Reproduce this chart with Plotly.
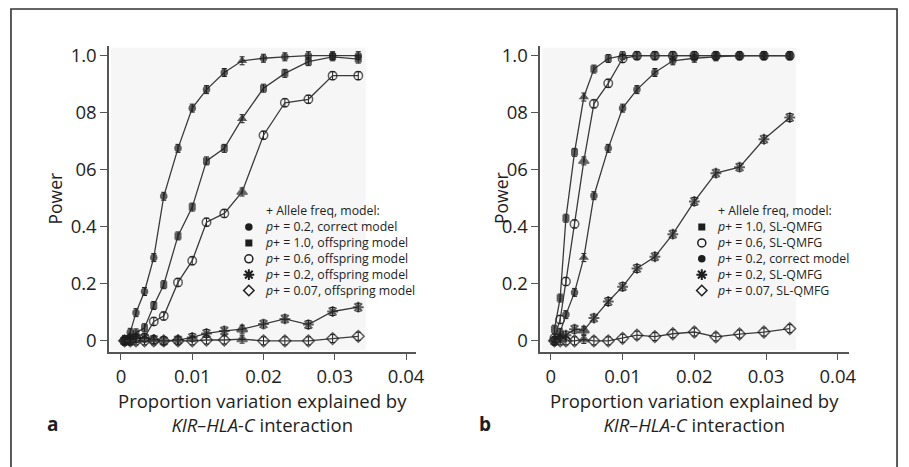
import plotly.graph_objects as go

# ---------------- data ----------------
X = [0.0005, 0.0013, 0.0021, 0.0033, 0.0046, 0.006, 0.008, 0.01, 0.012,
     0.0145, 0.017, 0.02, 0.023, 0.0263, 0.0297, 0.0333]

# panel a
A_correct_02 = [0.005, 0.03, 0.099, 0.173, 0.292, 0.507, 0.675, 0.816, 0.881,
                0.941, 0.982, 0.991, 0.996, 1.0, 1.0, 1.0]
A_off_10 = [0.0, 0.01, 0.028, 0.046, 0.124, 0.197, 0.368, 0.469, 0.631,
            0.675, 0.779, 0.886, 0.938, 0.979, 0.996, 0.988]
A_off_06 = [0.0, 0.0, 0.008, 0.012, 0.068, 0.087, 0.205, 0.281, 0.416,
            0.447, 0.522, 0.721, 0.835, 0.847, 0.93, 0.93]
A_off_02 = [0.0, 0.005, 0.01, 0.01, 0.005, 0.0, 0.003, 0.012, 0.026,
            0.035, 0.041, 0.059, 0.077, 0.057, 0.103, 0.118]
A_off_007 = [0.0, 0.0, 0.0, 0.0, 0.0, 0.0, 0.0, 0.0, 0.003,
             0.003, 0.006, 0.0, 0.0, 0.0, 0.008, 0.016]

# panel b
B_sl_10 = [0.041, 0.15, 0.43, 0.661, 0.855, 0.953, 0.99, 1.0, 1.0,
           1.0, 1.0, 1.0, 1.0, 1.0, 1.0, 1.0]
B_sl_06 = [0.01, 0.075, 0.208, 0.41, 0.631, 0.831, 0.903, 0.99, 1.0,
           1.0, 1.0, 1.0, 1.0, 1.0, 1.0, 1.0]
B_correct_02 = [0.0, 0.03, 0.092, 0.17, 0.292, 0.509, 0.675, 0.816, 0.881,
                0.941, 0.982, 0.991, 0.996, 1.0, 1.0, 1.0]
B_sl_02 = [0.0, 0.01, 0.02, 0.041, 0.037, 0.08, 0.138, 0.19, 0.254,
           0.295, 0.374, 0.489, 0.588, 0.609, 0.707, 0.783]
B_sl_007 = [0.0, 0.0, 0.0, 0.0, 0.005, 0.0, 0.0, 0.009, 0.02,
            0.015, 0.025, 0.031, 0.014, 0.024, 0.031, 0.043]

X_TICKS = [0, 0.01, 0.02, 0.03, 0.04]
X_TICKTEXT = ["0", "0.01", "0.02", "0.03", "0.04"]
Y_TICKS = [0, 0.2, 0.4, 0.6, 0.8, 1.0]
Y_TICKTEXT = ["0", "0.2", "0.4", "06", "08", "1.0"]

LEGEND_TITLE = "+ Allele freq, model:"
A_LABELS = ["<i>p</i>+ = 0.2, correct model", "<i>p</i>+ = 1.0, offspring model",
            "<i>p</i>+ = 0.6, offspring model", "<i>p</i>+ = 0.2, offspring model",
            "<i>p</i>+ = 0.07, offspring model"]
B_LABELS = ["<i>p</i>+ = 1.0, SL-QMFG", "<i>p</i>+ = 0.6, SL-QMFG",
            "<i>p</i>+ = 0.2, correct model", "<i>p</i>+ = 0.2, SL-QMFG",
            "<i>p</i>+ = 0.07, SL-QMFG"]

# ---------------- layout geometry (window pixels) ----------------
WIN_W, WIN_H = 909, 467
OFF = 8                       # default page margin around the figure
W, H = WIN_W - OFF, WIN_H - OFF
INK = "#1e1e1e"
LINE = "#3a3a3a"
FONT = "Open Sans"

PANELS = {
    "a": dict(xa="x", ya="y", px0=110, px1=420, xr=[-0.00167, 0.04145]),
    "b": dict(xa="x2", ya="y2", px0=545, px1=857, xr=[-0.00148, 0.04162]),
}
PY0, PY1 = 43, 351.7          # top / bottom pixel of the y axis
YR = [-0.038, 1.035]


def fx(p):
    return (p - OFF) / W


def fy(p):
    return 1 - (p - OFF) / H


def pix_to_data(panel, px, py):
    g = PANELS[panel]
    xd = g["xr"][0] + (px - g["px0"]) / (g["px1"] - g["px0"]) * (g["xr"][1] - g["xr"][0])
    yd = YR[0] + (PY1 - py) / (PY1 - PY0) * (YR[1] - YR[0])
    return xd, yd


STY = {
    "circle": dict(symbol="circle", size=7.5, color=INK, line=dict(width=0)),
    "square": dict(symbol="square", size=7, color=INK, line=dict(width=0)),
    "ocircle": dict(symbol="circle-open", size=8.5, color=INK, line=dict(width=1.5)),
    "star": dict(symbol="asterisk-open", size=9, color=INK, line=dict(width=2, color=INK)),
    "diamond": dict(symbol="diamond-open", size=9, color=INK, line=dict(width=1.5)),
}

fig = go.Figure()


def add_series(panel, ys, key, tri_idx):
    g = PANELS[panel]
    sty = dict(STY[key])
    symbols = [sty["symbol"]] * len(X)
    sizes = [sty["size"]] * len(X)
    symbols[tri_idx] = "triangle-up"
    sizes[tri_idx] = 9
    sty["symbol"] = symbols
    sty["size"] = sizes
    fig.add_trace(go.Scatter(
        x=X, y=ys, xaxis=g["xa"], yaxis=g["ya"], mode="lines+markers",
        line=dict(color=LINE, width=1.3), marker=sty, showlegend=False,
        error_y=dict(type="constant", value=0.014, color=INK, thickness=1, width=2.5),
    ))


A_SERIES = [(A_correct_02, "circle"), (A_off_10, "square"), (A_off_06, "ocircle"),
            (A_off_02, "star"), (A_off_007, "diamond")]
B_SERIES = [(B_sl_10, "square"), (B_sl_06, "ocircle"), (B_correct_02, "circle"),
            (B_sl_02, "star"), (B_sl_007, "diamond")]

for ys, key in A_SERIES:
    add_series("a", ys, key, X.index(0.017))
for ys, key in B_SERIES:
    add_series("b", ys, key, X.index(0.0046))

# ---------------- hand-made legends ----------------
LEG_FS = 12.3
LEG_LH = LEG_FS * 1.3          # plotly line height for <br>
LEG_TITLE_Y = 210
LEG_ROWS = [LEG_TITLE_Y + LEG_LH * (i + 1) for i in range(5)]
LEG_POS = {"a": (251, 266), "b": (708, 722)}
annotations = []
for panel, series, labels in [("a", A_SERIES, A_LABELS), ("b", B_SERIES, B_LABELS)]:
    g = PANELS[panel]
    mx, tx = LEG_POS[panel]
    for i, ((_, key), lab) in enumerate(zip(series, labels)):
        xd, yd = pix_to_data(panel, mx, LEG_ROWS[i])
        m = dict(STY[key])
        if key in ("ocircle", "diamond"):
            m["size"] = 8
        fig.add_trace(go.Scatter(x=[xd], y=[yd], xaxis=g["xa"], yaxis=g["ya"],
                                 mode="markers", marker=m, showlegend=False,
                                 hoverinfo="skip"))
    block = "<br>".join([LEGEND_TITLE] + labels)
    annotations.append(dict(x=fx(tx), y=fy((LEG_TITLE_Y + LEG_ROWS[-1]) / 2),
                            xref="paper", yref="paper", text=block, align="left",
                            showarrow=False, xanchor="left", yanchor="middle",
                            borderpad=0, font=dict(size=LEG_FS, color=INK, family=FONT)))

# ---------------- titles / panel letters ----------------
XTITLE = "Proportion variation explained by<br><i>KIR–HLA-C</i> interaction"
for cx, lx, lab in [(265, 53, "a"), (701, 489, "b")]:
    annotations.append(dict(x=fx(cx), y=fy(413), xref="paper", yref="paper", text=XTITLE,
                            showarrow=False, xanchor="center", yanchor="middle",
                            font=dict(size=18.5, color=INK, family=FONT)))
    annotations.append(dict(x=fx(lx), y=fy(425), xref="paper", yref="paper",
                            text="<b>" + lab + "</b>", showarrow=False,
                            xanchor="center", yanchor="middle",
                            font=dict(size=19, color=INK, family=FONT)))
for cx in [55.5, 506]:
    annotations.append(dict(x=fx(cx), y=fy(197), xref="paper", yref="paper", text="Power",
                            textangle=-90, showarrow=False, xanchor="center",
                            yanchor="middle", font=dict(size=17.5, color=INK, family=FONT)))

ax_common = dict(showgrid=False, zeroline=False, showline=True, linecolor="#555",
                 linewidth=1.5, ticks="outside", tickcolor="#555", ticklen=7, tickwidth=1.2,
                 tickfont=dict(size=18.5, color=INK, family=FONT))

shapes = [
    dict(type="rect", xref="paper", yref="paper", x0=fx(112), x1=fx(369), y0=fy(350), y1=fy(45),
         fillcolor="#f6f6f6", line=dict(width=0), layer="below"),
    dict(type="rect", xref="paper", yref="paper", x0=fx(547), x1=fx(803), y0=fy(350), y1=fy(45),
         fillcolor="#f6f6f6", line=dict(width=0), layer="below"),
    dict(type="path", xref="paper", yref="paper",
         path="M %f,%f L %f,%f L %f,%f L %f,%f" % (fx(11), fy(480), fx(11), fy(6),
                                                   fx(905), fy(6), fx(905), fy(480)),
         line=dict(color="#333", width=1.6)),
]

fig.update_layout(
    width=W, height=H, margin=dict(l=0, r=0, t=0, b=0),
    paper_bgcolor="white", plot_bgcolor="rgba(0,0,0,0)", showlegend=False,
    xaxis=dict(domain=[fx(110), fx(420)], range=PANELS["a"]["xr"], anchor="y",
               tickvals=X_TICKS, ticktext=X_TICKTEXT, **ax_common),
    yaxis=dict(domain=[fy(PY1), fy(PY0)], range=YR, anchor="x",
               tickvals=Y_TICKS, ticktext=Y_TICKTEXT, **ax_common),
    xaxis2=dict(domain=[fx(545), fx(857)], range=PANELS["b"]["xr"], anchor="y2",
                tickvals=X_TICKS, ticktext=X_TICKTEXT, **ax_common),
    yaxis2=dict(domain=[fy(PY1), fy(PY0)], range=YR, anchor="x2",
                tickvals=Y_TICKS, ticktext=Y_TICKTEXT, **ax_common),
    annotations=annotations, shapes=shapes,
    font=dict(family=FONT, color=INK),
)

fig.write_html("out.html")
